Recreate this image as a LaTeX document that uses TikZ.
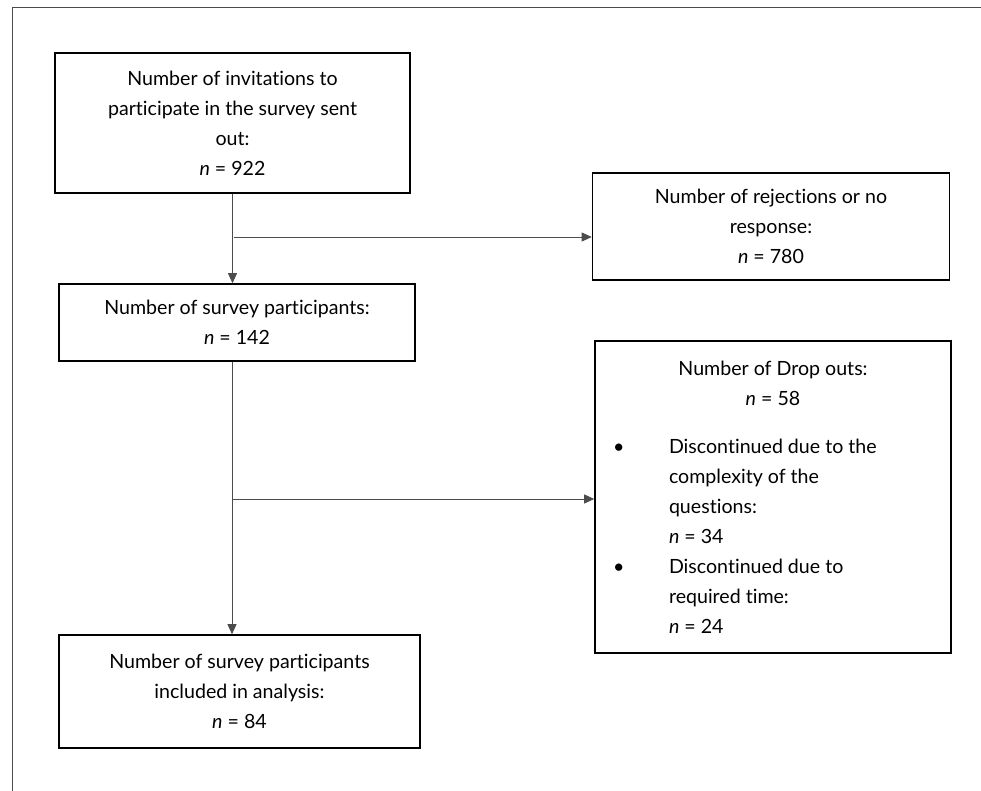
\documentclass[tikz,border=0pt]{standalone}
\usepackage{fontspec}
\usetikzlibrary{arrows.meta}
\newfontfamily\flowfont[Ligatures=NoCommon]{Lato}
\newcommand{\bul}{\makebox[56pt][l]{\textbullet}}
\begin{document}
\begin{tikzpicture}[x=1pt, y=-1pt,
  stagebox/.style={draw, line width=1.6pt, align=center, inner sep=0pt,
    font=\flowfont\fontsize{19.6}{30}\selectfont},
  flowarrow/.style={draw=black!70, line width=0.8pt, -{Triangle[length=10pt,width=9pt]}}]
  \useasboundingbox (0,0) rectangle (981,791);
  % Rahmen
  \draw[black!70, line width=0.8pt] (12,791) -- (12,7) -- (981,7);
  % Kaesten
  \node[stagebox, minimum width=355pt, minimum height=140pt] (invite) at (232.5,123)
    {Number of invitations to\\ participate in the survey sent\\ out:\\ \textit{n} = 922};
  \node[stagebox, minimum width=357pt, minimum height=107pt] (reject) at (771,226.5)
    {Number of rejections or no\\ response:\\ \textit{n} = 780};
  \node[stagebox, minimum width=356pt, minimum height=77pt] (particip) at (237,322.5)
    {Number of survey participants:\\ \textit{n} = 142};
  \node[stagebox, minimum width=356pt, minimum height=312pt] (dropout) at (773,497)
    {\begin{minipage}{320pt}
      \centering Number of Drop outs:\\ \textit{n} = 58\par
      \vspace{18pt}\raggedright
      \bul Discontinued due to the\\
      \hspace*{56pt}complexity of the\\
      \hspace*{56pt}questions:\\
      \hspace*{56pt}\textit{n} = 34\\
      \bul Discontinued due to\\
      \hspace*{56pt}required time:\\
      \hspace*{56pt}\textit{n} = 24
    \end{minipage}};
  \node[stagebox, minimum width=361pt, minimum height=113pt] (analysis) at (239.5,691.5)
    {Number of survey participants\\ included in analysis:\\ \textit{n} = 84};
  % Pfeile
  \coordinate (split1) at (234,237);
  \coordinate (split2) at (232,499);
  \draw[flowarrow] (invite.south) -- (invite.south |- particip.north);
  \draw[flowarrow] (split1) -- (split1 -| reject.west);
  \draw[flowarrow] (particip.south -| split2) -- (split2 |- analysis.north);
  \draw[flowarrow] (split2) -- (split2 -| dropout.west);
\end{tikzpicture}
\end{document}
